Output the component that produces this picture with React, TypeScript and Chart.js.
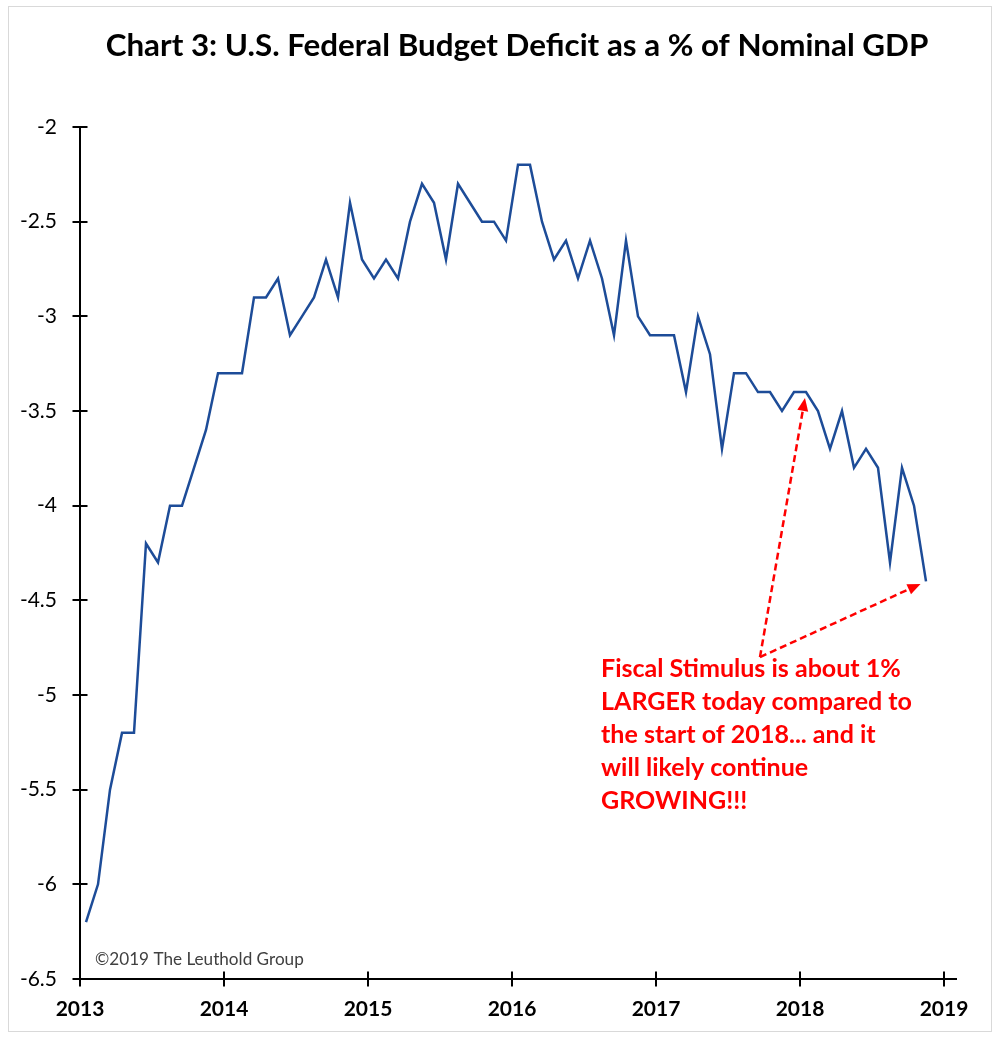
import { useEffect, useRef } from "react";
import { Chart, registerables } from "chart.js";

Chart.register(...registerables);

// Monthly federal budget deficit, % of nominal GDP (12-month sum), Jan 2013 – Nov 2018
const startYear = 2013;
const deficit2013 = [-6.2, -6.0, -5.5, -5.2, -5.2, -4.2, -4.3, -4.0, -4.0, -3.8, -3.6, -3.3];
const deficit2014 = [-3.3, -3.3, -2.9, -2.9, -2.8, -3.1, -3.0, -2.9, -2.7, -2.9, -2.4, -2.7];
const deficit2015 = [-2.8, -2.7, -2.8, -2.5, -2.3, -2.4, -2.7, -2.3, -2.4, -2.5, -2.5, -2.6];
const deficit2016 = [-2.2, -2.2, -2.5, -2.7, -2.6, -2.8, -2.6, -2.8, -3.1, -2.6, -3.0, -3.1];
const deficit2017 = [-3.1, -3.1, -3.4, -3.0, -3.2, -3.7, -3.3, -3.3, -3.4, -3.4, -3.5, -3.4];
const deficit2018 = [-3.4, -3.5, -3.7, -3.5, -3.8, -3.7, -3.8, -4.3, -3.8, -4.0, -4.4];

const deficitPct = [
  ...deficit2013,
  ...deficit2014,
  ...deficit2015,
  ...deficit2016,
  ...deficit2017,
  ...deficit2018,
];

const yearTicks = [2013, 2014, 2015, 2016, 2017, 2018, 2019];
const valueTicks = [-2, -2.5, -3, -3.5, -4, -4.5, -5, -5.5, -6, -6.5];

const chartTitle = "Chart 3: U.S. Federal Budget Deficit as a % of Nominal GDP";
const noteLines = [
  "Fiscal Stimulus is about 1%",
  "LARGER today compared to",
  "the start of 2018... and it",
  "will likely continue",
  "GROWING!!!",
];
const copyrightText = "\u00A92019 The Leuthold Group";

// the two months the note points at: January 2018 and the latest month
const noteTargets = [60, deficitPct.length - 1];

const FONT = "Lato, 'Open Sans', sans-serif";
const LINE_BLUE = "#1d4c98";
const NOTE_RED = "#ff0000";

// each observation sits at mid-month on a continuous year axis
const monthPoints = deficitPct.map((v, i) => ({
  x: startYear + Math.floor(i / 12) + ((i % 12) + 0.5) / 12,
  y: v,
}));

function fitFontSize(ctx: CanvasRenderingContext2D, text: string, weight: string, width: number) {
  ctx.font = `${weight} 100px ${FONT}`;
  return (100 * width) / ctx.measureText(text).width;
}

function arrow(ctx: CanvasRenderingContext2D, x0: number, y0: number, x1: number, y1: number) {
  const ang = Math.atan2(y1 - y0, x1 - x0);
  const head = 13;
  const half = 5.5;
  const bx = x1 - head * Math.cos(ang);
  const by = y1 - head * Math.sin(ang);
  ctx.save();
  ctx.strokeStyle = NOTE_RED;
  ctx.fillStyle = NOTE_RED;
  ctx.lineWidth = 2.5;
  ctx.setLineDash([7, 4]);
  ctx.beginPath();
  ctx.moveTo(x0, y0);
  ctx.lineTo(bx, by);
  ctx.stroke();
  ctx.setLineDash([]);
  ctx.beginPath();
  ctx.moveTo(x1, y1);
  ctx.lineTo(bx + half * Math.sin(ang), by - half * Math.cos(ang));
  ctx.lineTo(bx - half * Math.sin(ang), by + half * Math.cos(ang));
  ctx.closePath();
  ctx.fill();
  ctx.restore();
}

const decorations = {
  id: "decorations",
  beforeDraw(chart: any) {
    const { ctx, width, height } = chart;
    ctx.save();
    ctx.fillStyle = "#ffffff";
    ctx.fillRect(0, 0, width, height);
    ctx.strokeStyle = "#d9d9d9";
    ctx.lineWidth = 1;
    ctx.strokeRect(8.5, 6.5, 983, 1025);
    ctx.restore();
  },
  afterDraw(chart: any) {
    const { ctx, chartArea } = chart;
    const xs = chart.scales.x;
    const ys = chart.scales.y;
    const left = Math.round(chartArea.left);
    const bottom = Math.round(chartArea.bottom);

    ctx.save();
    // axis lines with cross ticks
    ctx.strokeStyle = "#000000";
    ctx.lineWidth = 2;
    ctx.beginPath();
    ctx.moveTo(left, ys.getPixelForValue(valueTicks[0]));
    ctx.lineTo(left, bottom);
    ctx.moveTo(left, bottom);
    ctx.lineTo(chartArea.right, bottom);
    for (const v of valueTicks) {
      const py = Math.round(ys.getPixelForValue(v));
      ctx.moveTo(left - 7.5, py);
      ctx.lineTo(left + 7.5, py);
    }
    for (const yr of yearTicks) {
      const px = Math.round(xs.getPixelForValue(yr));
      ctx.moveTo(px, bottom - 7.5);
      ctx.lineTo(px, bottom + 7.5);
    }
    ctx.stroke();

    // title
    const titleSize = fitFontSize(ctx, chartTitle, "bold", 823);
    ctx.font = `bold ${titleSize}px ${FONT}`;
    ctx.fillStyle = "#000000";
    ctx.textAlign = "center";
    ctx.textBaseline = "alphabetic";
    ctx.fillText(chartTitle, 517, 56);

    // copyright
    const cSize = fitFontSize(ctx, copyrightText, "normal", 209);
    ctx.font = `normal ${cSize}px ${FONT}`;
    ctx.fillStyle = "#404040";
    ctx.textAlign = "left";
    ctx.fillText(copyrightText, left + 15, bottom - 14);

    // note text, anchored in data space
    const noteX = xs.getPixelForValue(2016.618);
    const noteY = ys.getPixelForValue(-4.905);
    const nSize = fitFontSize(ctx, noteLines[0], "bold", 300);
    ctx.font = `bold ${nSize}px ${FONT}`;
    ctx.fillStyle = NOTE_RED;
    noteLines.forEach((line, i) => ctx.fillText(line, noteX, noteY + i * 33));

    // arrows from the note to the two months it compares
    const tailX = xs.getPixelForValue(2017.722);
    const tailY = ys.getPixelForValue(-4.8);
    for (const idx of noteTargets) {
      const p = monthPoints[idx];
      const px = xs.getPixelForValue(p.x);
      const py = ys.getPixelForValue(p.y);
      const d = Math.hypot(px - tailX, py - tailY);
      const back = 6;
      arrow(ctx, tailX, tailY, px - ((px - tailX) / d) * back, py - ((py - tailY) / d) * back);
    }
    ctx.restore();
  },
};

export default function App() {
  const canvasRef = useRef<HTMLCanvasElement | null>(null);

  useEffect(() => {
    if (!canvasRef.current) return;
    const chart = new Chart(canvasRef.current, {
      type: "line",
      data: {
        datasets: [
          {
            data: monthPoints,
            borderColor: LINE_BLUE,
            borderWidth: 2.5,
            pointRadius: 0,
            tension: 0,
            fill: false,
          },
        ],
      },
      options: {
        responsive: false,
        animation: false,
        devicePixelRatio: 1,
        layout: { padding: { top: 127, right: 43, left: 0, bottom: 0 } },
        plugins: {
          legend: { display: false },
          title: { display: false },
          tooltip: { enabled: false },
        },
        scales: {
          x: {
            type: "linear",
            min: 2013,
            max: 2019 + 13 / 144,
            afterFit: (s: any) => {
              s.height = 62;
            },
            afterBuildTicks: (s: any) => {
              s.ticks = yearTicks.map((v) => ({ value: v }));
            },
            grid: { display: false, drawTicks: false },
            border: { display: false },
            ticks: {
              padding: 18,
              color: "#000000",
              font: { family: FONT, size: 21, weight: "bold" },
              callback: (v: any) => String(v),
            },
          },
          y: {
            type: "linear",
            min: -6.5,
            max: -2,
            afterFit: (s: any) => {
              s.width = 80;
            },
            afterBuildTicks: (s: any) => {
              s.ticks = valueTicks.map((v) => ({ value: v }));
            },
            grid: { display: false, drawTicks: false },
            border: { display: false },
            ticks: {
              padding: 23,
              color: "#000000",
              font: { family: FONT, size: 21, weight: "normal" },
              callback: (v: any) => String(v),
            },
          },
        },
      },
      plugins: [decorations],
    });
    return () => chart.destroy();
  }, []);

  return (
    <div style={{ position: "fixed", left: 0, top: 0, width: 1000, height: 1041, background: "#ffffff" }}>
      <canvas ref={canvasRef} width={1000} height={1041} style={{ display: "block" }} />
    </div>
  );
}
